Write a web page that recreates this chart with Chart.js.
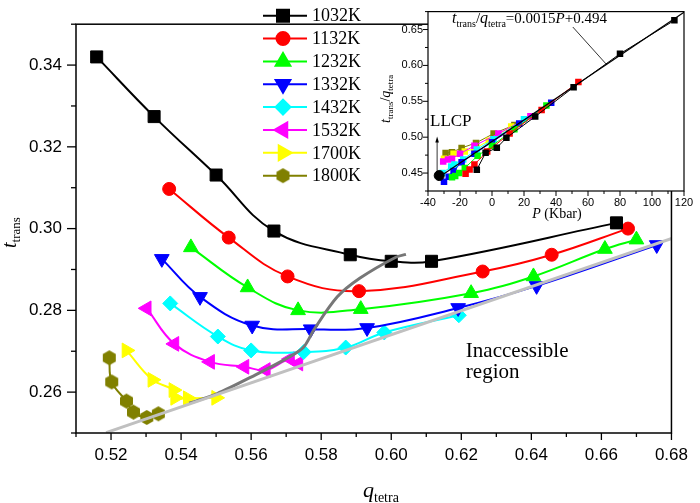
<!DOCTYPE html>
<html>
<head>
<meta charset="utf-8">
<script src="https://cdn.jsdelivr.net/npm/chart.js@4.4.1/dist/chart.umd.min.js"></script>
<style>
  html, body { margin: 0; padding: 0; background: #fff; }
  #wrap { position: relative; width: 700px; height: 503px; }
  #main { position: absolute; left: 0; top: 0; width: 700px; height: 503px; }
  #inset { position: absolute; left: 370px; top: 0; width: 330px; height: 225px; }
</style>
</head>
<body>
<div id="wrap">
  <canvas id="main" width="700" height="503"></canvas>
  <canvas id="inset" width="330" height="225"></canvas>
</div>
<script>
// main panel: t_trans against q_tetra for each temperature
const temps = ['1032K', '1132K', '1232K', '1332K', '1432K', '1532K', '1700K', '1800K']

const q1032 = [0.5159, 0.5323, 0.5500, 0.5665, 0.5883, 0.6000, 0.6115, 0.6643]
const t1032 = [0.3420, 0.3274, 0.3131, 0.2994, 0.2936, 0.2920, 0.2920, 0.3014]
const q1132 = [0.5366, 0.5536, 0.5704, 0.5908, 0.6261, 0.6458, 0.6676]
const t1132 = [0.3097, 0.2978, 0.2883, 0.2847, 0.2895, 0.2936, 0.3000]
const q1232 = [0.5428, 0.5590, 0.5734, 0.5913, 0.6228, 0.6406, 0.6610, 0.6700]
const t1232 = [0.2954, 0.2856, 0.2800, 0.2803, 0.2842, 0.2883, 0.2950, 0.2973]
const q1332 = [0.5345, 0.5454, 0.5603, 0.5770, 0.5931, 0.6191, 0.6415, 0.6758]
const t1332 = [0.2926, 0.2833, 0.2763, 0.2754, 0.2757, 0.2806, 0.2860, 0.2960]
const q1432 = [0.5369, 0.5505, 0.5600, 0.5750, 0.5870, 0.5980, 0.6193]
const t1432 = [0.2817, 0.2736, 0.2702, 0.2698, 0.2709, 0.2746, 0.2788]
const q1532 = [0.5302, 0.5381, 0.5483, 0.5581, 0.5642, 0.5711, 0.5735]
const t1532 = [0.2805, 0.2718, 0.2674, 0.2662, 0.2654, 0.2681, 0.2670]
const q1700 = [0.5244, 0.5318, 0.5378, 0.5383, 0.5419, 0.5500]
const t1700 = [0.2702, 0.2630, 0.2605, 0.2586, 0.2585, 0.2586]
const q1800 = [0.5195, 0.5202, 0.5244, 0.5264, 0.5302, 0.5335]
const t1800 = [0.2684, 0.2625, 0.2578, 0.2551, 0.2538, 0.2547]

// dark grey boundary curve and light grey limit line
const qBound = [0.5423, 0.5502, 0.5614, 0.5707, 0.5749, 0.5781, 0.5846, 0.5911, 0.6013, 0.6042]
const tBound = [0.2573, 0.2596, 0.2643, 0.2685, 0.2709, 0.2755, 0.2833, 0.2879, 0.2930, 0.2937]
const qLimit = [0.5186, 0.6805]
const tLimit = [0.2501, 0.2977]

// inset: t_trans/q_tetra against P (Kbar)
const p1032 = [114, 80, 51, 27, 9, 3, -4, -9.5]
const r1032 = [0.6628, 0.6162, 0.5696, 0.5287, 0.4991, 0.4852, 0.4782, 0.4547]
const p1132 = [54, 31, 11, -3, -11, -14, -16.5]
const r1132 = [0.577, 0.538, 0.505, 0.480, 0.462, 0.455, 0.449]
const p1232 = [34, 14, 0, -9, -17, -20.5, -23, -25]
const r1232 = [0.544, 0.511, 0.488, 0.474, 0.457, 0.450, 0.446, 0.444]
const p1332 = [37, 17, 0, -11, -19, -24, -27, -30]
const r1332 = [0.548, 0.519, 0.493, 0.477, 0.465, 0.453, 0.445, 0.438]
const p1432 = [20, 1, -9.5, -18, -23.5, -25.5, -31]
const r1432 = [0.525, 0.497, 0.483, 0.469, 0.462, 0.459, 0.450]
const p1532 = [24, 4, -11, -20, -25, -27.5, -30.5]
const r1532 = [0.529, 0.505, 0.488, 0.477, 0.470, 0.469, 0.466]
const p1700 = [12, -2, -11, -17, -24, -30]
const r1700 = [0.515, 0.495, 0.484, 0.480, 0.477, 0.470]
const p1800 = [14, 1, -10, -19, -25, -29]
const r1800 = [0.517, 0.505, 0.492, 0.485, 0.479, 0.478]
const pFit = [-33, 120]
const rFit = [0.4445, 0.674]
const pLLCP = [-33]
const rLLCP = [0.4465]

const colors = ['#000000', '#ff0000', '#00ff00', '#0000ff', '#00ffff', '#ff00ff', '#ffff00', '#808000']

function pts (xs, ys) {
  return xs.map((x, i) => ({ x: x, y: ys[i] }))
}

function hexagon (r, color) {
  const c = document.createElement('canvas')
  c.width = Math.ceil(2 * r + 2)
  c.height = Math.ceil(2 * r + 2)
  const g = c.getContext('2d')
  g.fillStyle = color
  g.beginPath()
  for (let i = 0; i < 6; i++) {
    const a = -Math.PI / 2 + i * Math.PI / 3
    const x = c.width / 2 + r * Math.cos(a)
    const y = c.height / 2 + r * Math.sin(a)
    if (i === 0) g.moveTo(x, y)
    else g.lineTo(x, y)
  }
  g.closePath()
  g.fill()
  return c
}

const hex = hexagon(7.5, colors[7])

// marker look per series: style, rotation, radius
const markers = [
  ['rect', 0, 8.5],
  ['circle', 0, 6.5],
  ['triangle', 0, 8.5],
  ['triangle', 180, 8.5],
  ['rectRot', 0, 7.5],
  ['triangle', 270, 8.5],
  ['triangle', 90, 8.5],
  [hex, 0, 7.5]
]

const mainQ = [q1032, q1132, q1232, q1332, q1432, q1532, q1700, q1800]
const mainT = [t1032, t1132, t1232, t1332, t1432, t1532, t1700, t1800]
const insetP = [p1032, p1132, p1232, p1332, p1432, p1532, p1700, p1800]
const insetR = [r1032, r1132, r1232, r1332, r1432, r1532, r1700, r1800]

Chart.defaults.font.family = '"Liberation Sans", Arial, sans-serif'
Chart.defaults.color = '#000'

// axis ticks drawn by hand so that minor ones can be shorter, plus the frame
const frameTicks = {
  id: 'frameTicks',
  afterDraw (chart, args, opts) {
    const ctx = chart.ctx
    const a = chart.chartArea
    ctx.save()
    ctx.strokeStyle = '#000'
    ctx.lineWidth = opts.tickWidth
    const xs = chart.scales.x
    xs.ticks.forEach((t, i) => {
      const px = xs.getPixelForTick(i)
      const len = t.label !== '' ? opts.xMajor : opts.xMinor
      ctx.beginPath()
      ctx.moveTo(px, a.bottom)
      ctx.lineTo(px, a.bottom + len)
      ctx.stroke()
    })
    const ys = chart.scales.y
    ys.ticks.forEach((t, i) => {
      const py = ys.getPixelForTick(i)
      const len = t.label !== '' ? opts.yMajor : opts.yMinor
      ctx.beginPath()
      ctx.moveTo(a.left, py)
      ctx.lineTo(a.left - len, py)
      ctx.stroke()
    })
    ctx.lineWidth = opts.frameWidth
    ctx.strokeRect(a.left, a.top, a.right - a.left, a.bottom - a.top)
    ctx.restore()
  }
}

const whiteArea = {
  id: 'whiteArea',
  beforeDraw (chart) {
    const a = chart.chartArea
    chart.ctx.save()
    chart.ctx.fillStyle = '#fff'
    chart.ctx.fillRect(a.left, a.top, a.right - a.left, a.bottom - a.top)
    chart.ctx.restore()
  }
}

// text made of pieces with their own font and vertical shift
function rich (ctx, parts, x, y) {
  parts.forEach(p => {
    ctx.font = p[1]
    ctx.fillText(p[0], x, y + (p[2] || 0))
    x += ctx.measureText(p[0]).width
  })
}
function richWidth (ctx, parts) {
  let w = 0
  parts.forEach(p => {
    ctx.font = p[1]
    w += ctx.measureText(p[0]).width
  })
  return w
}

const serif = '"Liberation Serif", "Times New Roman", serif'

function marker (ctx, m, color, x, y) {
  const opts = { pointStyle: m[0], rotation: m[1], radius: m[2], borderWidth: 1 }
  ctx.fillStyle = color
  ctx.strokeStyle = color
  Chart.helpers.drawPoint(ctx, opts, x, y)
}

const mainDecor = {
  id: 'mainDecor',
  afterDraw (chart) {
    const ctx = chart.ctx
    const xs = chart.scales.x
    const ys = chart.scales.y
    ctx.save()
    ctx.fillStyle = '#000'
    ctx.textBaseline = 'alphabetic'

    // x title
    rich(ctx, [['q', 'italic 22px ' + serif], ['tetra', '14px ' + serif, 5]], 363, 497)

    // y title
    ctx.save()
    ctx.translate(16, 248)
    ctx.rotate(-Math.PI / 2)
    rich(ctx, [['t', 'italic 20px ' + serif], ['trans', '13px ' + serif, 4]], 0, 0)
    ctx.restore()

    // region label
    ctx.font = '21px ' + serif
    ctx.fillText('Inaccessible', xs.getPixelForValue(0.6213), ys.getPixelForValue(0.2686))
    ctx.fillText('region', xs.getPixelForValue(0.6213), ys.getPixelForValue(0.2635))

    // legend
    temps.forEach((name, i) => {
      const y = 15.7 + i * 22.85
      ctx.strokeStyle = colors[i]
      ctx.lineWidth = 2
      ctx.beginPath()
      ctx.moveTo(263, y)
      ctx.lineTo(307, y)
      ctx.stroke()
      marker(ctx, markers[i], colors[i], 283, y)
      ctx.fillStyle = '#000'
      ctx.font = '18px ' + serif
      ctx.textBaseline = 'middle'
      ctx.fillText(name, 312, y + 1)
      ctx.textBaseline = 'alphabetic'
    })
    ctx.restore()
  }
}

const mainSets = [
  {
    label: 'limit', data: pts(qLimit, tLimit), borderColor: '#c0c0c0', borderWidth: 3,
    pointRadius: 0, tension: 0
  },
  {
    label: 'boundary', data: pts(qBound, tBound), borderColor: '#777777', borderWidth: 3,
    pointRadius: 0, tension: 0.3
  }
]
temps.forEach((name, i) => {
  mainSets.push({
    label: name,
    data: pts(mainQ[i], mainT[i]),
    borderColor: colors[i],
    backgroundColor: colors[i],
    borderWidth: 2,
    pointStyle: markers[i][0],
    pointRotation: markers[i][1],
    pointRadius: markers[i][2],
    pointBorderWidth: 1,
    pointBackgroundColor: colors[i],
    pointBorderColor: colors[i],
    tension: 0.4
  })
})

new Chart(document.getElementById('main'), {
  type: 'line',
  data: { datasets: mainSets },
  options: {
    responsive: false,
    animation: false,
    events: [],
    layout: { padding: { left: 0, top: 1, right: 16, bottom: 0 } },
    plugins: {
      legend: { display: false },
      tooltip: { enabled: false },
      frameTicks: { tickWidth: 1.3, frameWidth: 1.5, xMajor: 7, xMinor: 4, yMajor: 9, yMinor: 5 }
    },
    scales: {
      x: {
        type: 'linear',
        min: 0.51,
        max: 0.68,
        grid: { display: false, drawTicks: false },
        border: { display: false },
        afterFit: s => { s.height = 70 },
        ticks: {
          stepSize: 0.01,
          autoSkip: false,
          maxRotation: 0,
          padding: 12,
          font: { size: 17 },
          callback: v => (Math.round(v * 100) % 2 === 0 ? v.toFixed(2) : '')
        }
      },
      y: {
        type: 'linear',
        min: 0.25,
        max: 0.35,
        grid: { display: false, drawTicks: false },
        border: { display: false },
        afterFit: s => { s.width = 76 },
        ticks: {
          stepSize: 0.01,
          autoSkip: false,
          padding: 14,
          font: { size: 17 },
          callback: v => (Math.round(v * 100) % 2 === 0 ? v.toFixed(2) : '')
        }
      }
    }
  },
  plugins: [frameTicks, mainDecor]
})

const insetDecor = {
  id: 'insetDecor',
  afterDraw (chart) {
    const ctx = chart.ctx
    const xs = chart.scales.x
    const ys = chart.scales.y
    ctx.save()
    ctx.fillStyle = '#000'
    ctx.strokeStyle = '#000'
    ctx.textBaseline = 'alphabetic'

    // x title
    const xt = [['P', 'italic 14px ' + serif], [' (Kbar)', '14px ' + serif]]
    rich(ctx, xt, 187 - richWidth(ctx, xt) / 2, 218)

    // y title
    ctx.save()
    ctx.translate(20, 123)
    ctx.rotate(-Math.PI / 2)
    rich(ctx, [
      ['t', 'italic 14px ' + serif], ['trans', '9px ' + serif, 3], ['/', '14px ' + serif],
      ['q', 'italic 14px ' + serif], ['tetra', '9px ' + serif, 3]
    ], 0, 0)
    ctx.restore()

    // fit formula with pointer
    rich(ctx, [
      ['t', 'italic 16px ' + serif], ['trans', '10px ' + serif, 4], ['/', '15px ' + serif],
      ['q', 'italic 16px ' + serif], ['tetra', '10px ' + serif, 4],
      ['=0.0015', '15px ' + serif], ['P', 'italic 15px ' + serif], ['+0.494', '15px ' + serif]
    ], 82, 23)
    ctx.lineWidth = 0.8
    ctx.beginPath()
    ctx.moveTo(xs.getPixelForValue(50.5), 27)
    ctx.lineTo(xs.getPixelForValue(71.5), ys.getPixelForValue(0.6015))
    ctx.stroke()

    // LLCP label and arrow
    ctx.font = '17px ' + serif
    ctx.fillText('LLCP', 60, 126)
    const ax = xs.getPixelForValue(-34.3)
    const y0 = ys.getPixelForValue(0.453)
    const y1 = ys.getPixelForValue(0.501)
    ctx.lineWidth = 0.8
    ctx.beginPath()
    ctx.moveTo(ax, y0)
    ctx.lineTo(ax, y1 + 4)
    ctx.stroke()
    ctx.beginPath()
    ctx.moveTo(ax, y1)
    ctx.lineTo(ax - 1.8, y1 + 6)
    ctx.lineTo(ax + 1.8, y1 + 6)
    ctx.closePath()
    ctx.fill()
    ctx.restore()
  }
}

const insetSets = [
  {
    label: 'LLCP', data: pts(pLLCP, rLLCP), showLine: false, pointStyle: 'circle',
    pointRadius: 5, pointBackgroundColor: '#000', pointBorderColor: '#000'
  },
  {
    label: 'fit', data: pts(pFit, rFit), borderColor: '#000', borderWidth: 1.2,
    pointRadius: 0, tension: 0
  }
]
temps.forEach((name, i) => {
  insetSets.push({
    label: name,
    data: pts(insetP[i], insetR[i]),
    borderColor: colors[i],
    borderWidth: 1,
    pointStyle: 'rect',
    pointRadius: 4.6,
    pointBorderWidth: 0,
    pointBackgroundColor: colors[i],
    tension: 0
  })
})

new Chart(document.getElementById('inset'), {
  type: 'line',
  data: { datasets: insetSets },
  options: {
    responsive: false,
    animation: false,
    events: [],
    layout: { padding: { left: 0, top: 1, right: 16, bottom: 0 } },
    plugins: {
      legend: { display: false },
      tooltip: { enabled: false },
      frameTicks: { tickWidth: 1, frameWidth: 1.2, xMajor: 5, xMinor: 3, yMajor: 5, yMinor: 3 }
    },
    scales: {
      x: {
        type: 'linear',
        min: -40,
        max: 120,
        grid: { display: false, drawTicks: false },
        border: { display: false },
        afterFit: s => { s.height = 34 },
        ticks: {
          stepSize: 10,
          autoSkip: false,
          maxRotation: 0,
          padding: 5,
          font: { size: 11 },
          callback: v => (Math.round(v) % 20 === 0 ? String(v) : '')
        }
      },
      y: {
        type: 'linear',
        min: 0.425,
        max: 0.675,
        grid: { display: false, drawTicks: false },
        border: { display: false },
        afterFit: s => { s.width = 58 },
        ticks: {
          stepSize: 0.025,
          autoSkip: false,
          padding: 5,
          font: { size: 11 },
          callback: v => (Math.round(v * 1000) % 50 === 0 ? v.toFixed(2) : '')
        }
      }
    }
  },
  plugins: [whiteArea, frameTicks, insetDecor]
})
</script>
</body>
</html>
